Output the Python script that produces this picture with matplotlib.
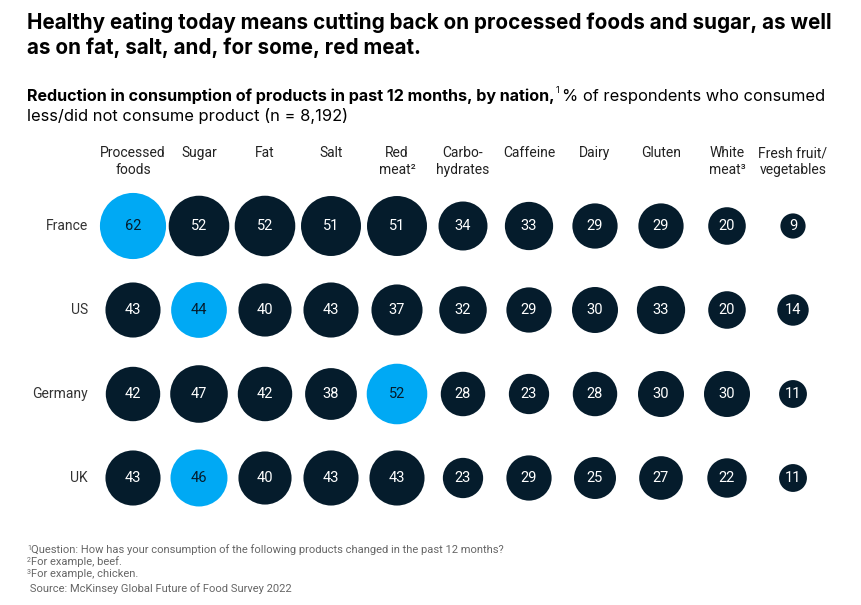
import numpy as np
import matplotlib.pyplot as plt

plt.rcParams['font.family'] = ['Roboto', 'DejaVu Sans']

# data
products = ['Processed\nfoods', 'Sugar', 'Fat', 'Salt', 'Red\nmeat²', 'Carbo-\nhydrates',
            'Caffeine', 'Dairy', 'Gluten', 'White\nmeat³', 'Fresh fruit/\nvegetables']
nations = ['France', 'US', 'Germany', 'UK']
france = [62, 52, 52, 51, 51, 34, 33, 29, 29, 20, 9]
us = [43, 44, 40, 43, 37, 32, 29, 30, 33, 20, 14]
germany = [42, 47, 42, 38, 52, 28, 23, 28, 30, 30, 11]
uk = [43, 46, 40, 43, 43, 23, 29, 25, 27, 22, 11]

values = np.array([france, us, germany, uk])

navy = '#051c2c'
blue = '#00a9f4'
grey = '#666666'
W, H = 862, 605

fig = plt.figure(figsize=(W / 100, H / 100), dpi=100)
renderer = fig.canvas.get_renderer()

# axes: columns 66 px apart starting at 133, rows 84 px apart starting at 226
ax = fig.add_axes([100 / W, (H - 520) / H, 726 / W, 336 / H])
ax.set_xlim(-0.5, 10.5)
ax.set_ylim(3.5, -0.5)
ax.axis('off')

scale = 8.4  # px of diameter per sqrt(value)
for r, row in enumerate(values):
    hi = np.argmax(row)
    for c, v in enumerate(row):
        col = blue if c == hi else navy
        d_pt = scale * np.sqrt(v) * 0.72
        ax.scatter(c, r, s=d_pt ** 2, color=col, edgecolors='none', clip_on=False)
        ax.text(c, r, str(v), ha='center', va='center', fontsize=10.5,
                color=navy if c == hi else 'white')
    ax.text(-0.68, r, nations[r], ha='right', va='center', fontsize=10, color='#333333')

for c, p in enumerate(products):
    ax.text(c, -0.95, p, ha='center', va='top', fontsize=10, color='#222222',
            linespacing=1.25)


def fit(t, width):
    # shrink/grow a text so it spans the width
    w = t.get_window_extent(renderer).width
    t.set_fontsize(t.get_fontsize() * width / w)
    return t


def px(x, y):
    return x / W, 1 - y / H


tfont = ['Inter', 'DejaVu Sans']
t = fig.text(*px(27, 29), 'Healthy eating today means cutting back on processed foods and sugar, as well',
             fontsize=14, fontweight='bold', va='baseline', family=tfont)
fit(t, 806)
fig.text(*px(27, 54), 'as on fat, salt, and, for some, red meat.', fontsize=t.get_fontsize(),
         fontweight='bold', va='baseline', family=tfont)

# subtitle with mixed weights
t1 = fig.text(*px(27, 101), 'Reduction in consumption of products in past 12 months, by nation,',
              fontsize=11, fontweight='bold', va='baseline', family=tfont)
fit(t1, 531)
x1 = t1.get_window_extent(renderer).x1
t2 = fig.text((x1 + 1) / W, 1 - 93 / H, '1', fontsize=6.5, va='baseline', family=tfont)
x2 = t2.get_window_extent(renderer).x1
t3 = fig.text((x2 + 3) / W, 1 - 101 / H, '% of respondents who consumed',
              fontsize=11, va='baseline', family=tfont)
fit(t3, 824 - x2 - 3)
fig.text(*px(27, 121), 'less/did not consume product (n = 8,192)', fontsize=t3.get_fontsize(),
         va='baseline', family=tfont)

notes = ['Question: How has your consumption of the following products changed in the past 12 months?',
         'For example, beef.',
         'For example, chicken.',
         ' Source: McKinsey Global Future of Food Survey 2022']
marks = ['1', '2', '3', '']
note_y = [553, 565, 577, 592]
fs = None
for m, n, y in zip(marks, notes, note_y):
    xs = 27
    if m:
        s = fig.text(*px(xs, y - 3), m, fontsize=5, va='baseline', color=grey)
        xs = s.get_window_extent(renderer).x1 + 0.5
    tn = fig.text(*px(xs, y), n, fontsize=7.5, va='baseline', color=grey)
    if fs is None:
        fit(tn, 506 - xs)
        fs = tn.get_fontsize()
    else:
        tn.set_fontsize(fs)

fig.savefig('out.png', dpi=100)
